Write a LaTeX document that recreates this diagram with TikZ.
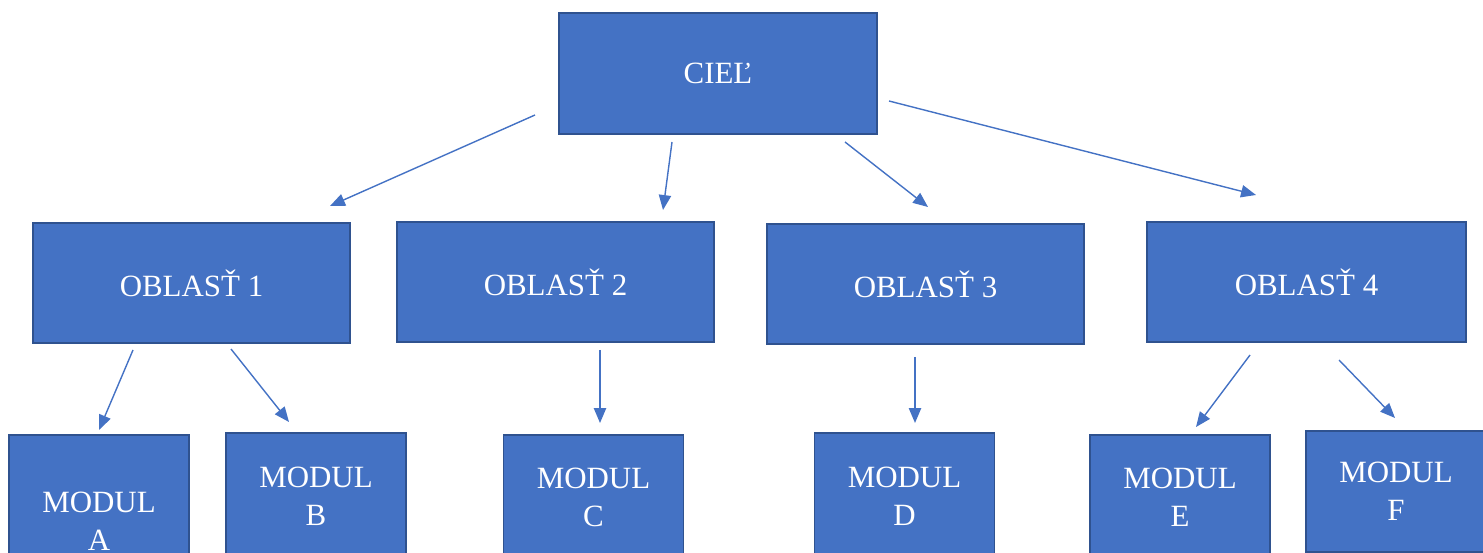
\documentclass[tikz,border=0pt]{standalone}
\usepackage{fontspec}
\setmainfont{Liberation Serif}
\usepackage{xcolor}
\definecolor{modra}{RGB}{68, 114, 196}
\definecolor{okraj}{RGB}{47, 82, 143}
\usetikzlibrary{arrows.meta}
\tikzset{
  box/.style={draw=okraj, line width=1.1pt, fill=modra, text=white, align=center,
    font=\fontsize{17.6}{21.5}\selectfont, inner sep=0pt},
  velky/.style={box, minimum width=6.35cm, minimum height=2.4cm},
  maly/.style={box, minimum width=3.6cm},
  sipka/.style={draw=modra, line width=0.8pt, -{Triangle[length=8.5pt, width=7pt]}}
}

\begin{document}
\begin{tikzpicture}[x=0.02cm, y=-0.02cm]
        \useasboundingbox (0,0) rectangle (1483,553);
        \clip (0,0) rectangle (1483,553);
        % ciel a oblasti
        \node[velky, minimum height=2.42cm] (cie) at (718,73.5) {CIEĽ};
        \node[velky] (obl1) at (191.5,283) {OBLASŤ 1};
        \node[velky] (obl2) at (555.5,282) {OBLASŤ 2};
        \node[velky] (obl3) at (925.5,284) {OBLASŤ 3};
        \node[velky, minimum width=6.38cm] (obl4) at (1306.5,282) {OBLASŤ 4};
        % moduly
        \node[maly, minimum height=3.44cm] (modA) at (99,521) {MODUL\\A};
        \node[maly, minimum height=2.52cm] (modB) at (316,496) {MODUL\\B};
        \node[maly, minimum height=2.5cm] (modC) at (593.5,497.5) {MODUL\\C};
        \node[maly, minimum height=2.52cm] (modD) at (904.5,496) {MODUL\\D};
        \node[maly, minimum height=2.5cm] (modE) at (1180,497.5) {MODUL\\E};
        \node[maly, minimum height=2.42cm] (modF) at (1396,491.5) {MODUL\\F};
        % konce sipok
        \coordinate (c1) at (535,115);  \coordinate (o1) at (330,206);
        \coordinate (c2) at (672,142);  \coordinate (o2) at (663,210);
        \coordinate (c3) at (845,142);  \coordinate (o3) at (928,207);
        \coordinate (c4) at (889,101);  \coordinate (o4) at (1256,195);
        \coordinate (a1) at (133,350);  \coordinate (ma) at (99,430);
        \coordinate (b1) at (231,349);  \coordinate (mb) at (289,422);
        \coordinate (c5) at (600,350);  \coordinate (mc) at (600,423);
        \coordinate (d1) at (915,357);  \coordinate (md) at (915,423);
        \coordinate (e1) at (1250,355); \coordinate (me) at (1196,427);
        \coordinate (f1) at (1339,360); \coordinate (mf) at (1395,418);
        \foreach \s/\t in {c1/o1, c2/o2, c3/o3, c4/o4, a1/ma, b1/mb, c5/mc, d1/md, e1/me, f1/mf}
            \draw[sipka] (\s) -- (\t);
    \end{tikzpicture}
\end{document}
